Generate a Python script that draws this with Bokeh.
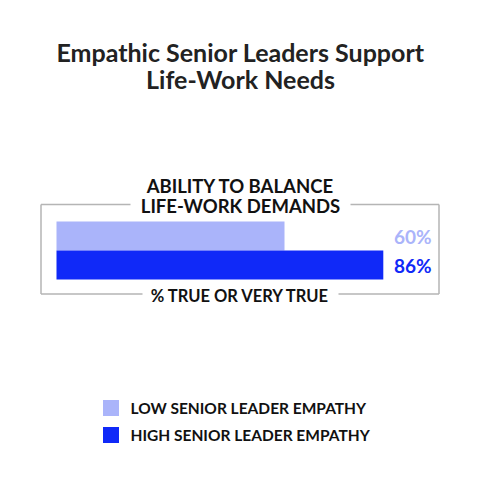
from bokeh.plotting import figure
from bokeh.models import Range1d
from bokeh.core.properties import value
from bokeh.embed import file_html
from bokeh.resources import INLINE

title_lines = ["Empathic Senior Leaders Support", "Life-Work Needs"]
header_lines = ["ABILITY TO BALANCE", "LIFE-WORK DEMANDS"]
footer = "% TRUE OR VERY TRUE"
series = ["LOW SENIOR LEADER EMPATHY", "HIGH SENIOR LEADER EMPATHY"]
values = [60, 86]
colors = ["#aab4fa", "#1029f8"]

W = H = 464
PX_PER_PCT = 3.8
X0 = 56  # frame pixel of 0%

p = figure(width=W, height=H, output_backend="svg", toolbar_location=None,
           x_range=Range1d(-X0 / PX_PER_PCT, (W - X0) / PX_PER_PCT),
           y_range=Range1d(H, 0), min_border=0)
p.extra_x_ranges = {"px": Range1d(0, W)}
p.axis.visible = False
p.grid.visible = False
p.outline_line_color = None
p.background_fill_color = "white"
p.border_fill_color = "white"

FONT = value("Lato")

# title
p.text(x=[240, 240], y=[51, 78], text=title_lines, x_range_name="px",
       text_font=FONT, text_font_size="25px", text_color="#222222",
       text_align="center", text_baseline="middle", text_font_style="bold")

# box lines
lc = "#b5b5b5"
xs0 = [40.5, 350, 40.5, 338, 40.5, 438.5]
xs1 = [130, 438.5, 142, 438.5, 40.5, 438.5]
ys0 = [204, 204, 293.5, 293.5, 204, 204]
ys1 = [204, 204, 293.5, 293.5, 293.5, 293.5]
p.segment(x0=xs0, y0=ys0, x1=xs1, y1=ys1, x_range_name="px",
          line_color=lc, line_width=1.5)

# header
p.text(x=[240, 240], y=[185, 205], text=header_lines, x_range_name="px",
       text_font=FONT, text_font_size="18.5px", text_color="#111111",
       text_align="center", text_baseline="middle", text_font_style="bold")

# bars
bar_h = 29
centers = [221 + bar_h * (i + 0.5) for i in range(len(values))]
p.hbar(y=centers, left=0, right=values, height=bar_h, fill_color=colors,
       line_color=None)
p.text(x=[431] * len(values), y=centers, text=[f"{v}%" for v in values],
       x_range_name="px", text_font=FONT, text_font_size="19px",
       text_color=colors, text_align="right", text_baseline="middle",
       text_font_style="bold")

# footer
p.text(x=[240], y=[295.5], text=[footer], x_range_name="px",
       text_font=FONT, text_font_size="16.5px", text_color="#111111",
       text_align="center", text_baseline="middle", text_font_style="bold")

# legend
leg_y = [407.5 + 27 * i for i in range(len(series))]
p.rect(x=[110.5] * len(series), y=leg_y, width=16, height=16,
       width_units="screen", height_units="screen", x_range_name="px",
       fill_color=colors, line_color=None)
p.text(x=[130] * len(series), y=leg_y, text=series, x_range_name="px",
       text_font=FONT, text_font_size="15.5px", text_color="#111111",
       text_align="left", text_baseline="middle", text_font_style="bold")

open("out.html", "w").write(file_html(p, INLINE))
